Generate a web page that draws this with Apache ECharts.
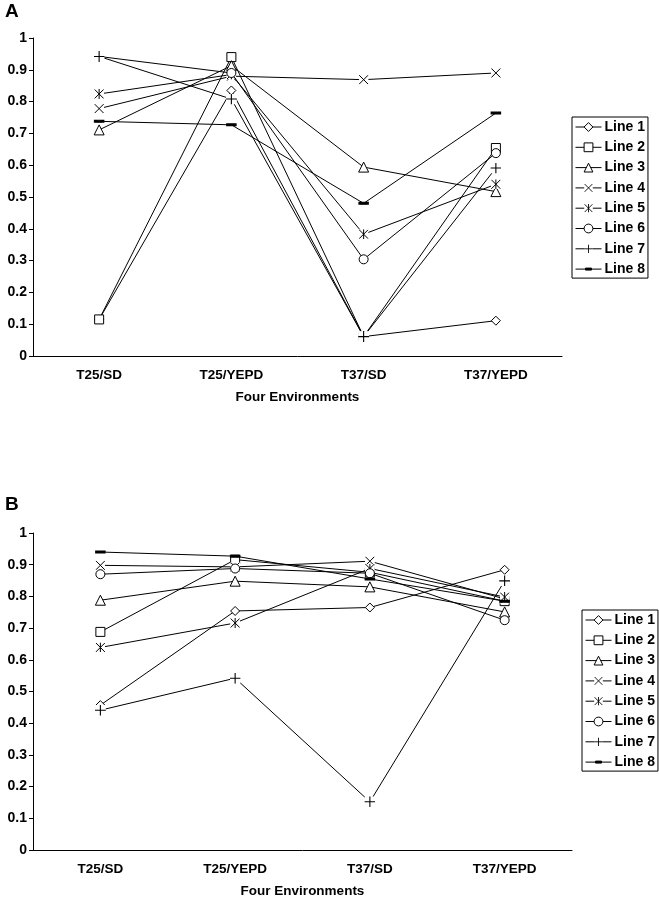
<!DOCTYPE html>
<html>
<head>
<meta charset="utf-8">
<script src="https://cdn.jsdelivr.net/npm/echarts@6/dist/echarts.min.js"></script>
<style>
  html, body { margin: 0; padding: 0; background: #fff; }
  #chart { width: 659px; height: 899px; }
</style>
</head>
<body>
<div id="chart"></div>
<script>
const categories = ['T25/SD', 'T25/YEPD', 'T37/SD', 'T37/YEPD'];
const lineNames = ['Line 1', 'Line 2', 'Line 3', 'Line 4', 'Line 5', 'Line 6', 'Line 7', 'Line 8'];

// panel A
const line1A = [0.115, 0.835, 0.061, 0.111];
const line2A = [0.115, 0.940, 0.061, 0.654];
const line3A = [0.711, 0.913, 0.594, 0.517];
const line4A = [0.778, 0.880, 0.869, 0.890];
const line5A = [0.824, 0.885, 0.383, 0.540];
const line6A = [0.942, 0.890, 0.304, 0.638];
const line7A = [0.942, 0.808, 0.061, 0.591];
const line8A = [0.738, 0.727, 0.480, 0.764];

// panel B
const line1B = [0.457, 0.754, 0.765, 0.884];
const line2B = [0.688, 0.916, 0.876, 0.785];
const line3B = [0.788, 0.848, 0.830, 0.751];
const line4B = [0.898, 0.893, 0.911, 0.792];
const line5B = [0.639, 0.716, 0.888, 0.798];
const line6B = [0.870, 0.888, 0.873, 0.725];
const line7B = [0.441, 0.542, 0.152, 0.849];
const line8B = [0.940, 0.927, 0.855, 0.785];

const panelA = [line1A, line2A, line3A, line4A, line5A, line6A, line7A, line8A];
const panelB = [line1B, line2B, line3B, line4B, line5B, line6B, line7B, line8B];

// x / * / + markers sit on a white square, like the old Excel ones
function strokeMarker(d) {
  const svg = '<svg xmlns="http://www.w3.org/2000/svg" width="20" height="20" viewBox="0 0 10 10">' +
    '<rect width="10" height="10" fill="white"/>' +
    '<path d="' + d + '" stroke="black" stroke-width="1" fill="none"/></svg>';
  return 'image://data:image/svg+xml;charset=utf-8,' + encodeURIComponent(svg);
}
const crossSym = strokeMarker('M0.5,0.5L9.5,9.5M9.5,0.5L0.5,9.5');
const starSym = strokeMarker('M0.5,0.5L9.5,9.5M9.5,0.5L0.5,9.5M5,0L5,10');
const plusSym = strokeMarker('M5,0L5,10M0,5L10,5');

const symbols = ['diamond', 'rect', 'triangle', crossSym, starSym, 'circle', plusSym, 'rect'];
const symbolSizes = [9, 9, 10, 10, 10, 9, 11, [7, 2]];

const font = 'Liberation Sans, Arial, sans-serif';
const chart = echarts.init(document.getElementById('chart'));

function makeSeries(values, axisIdx) {
  return values.map((data, i) => ({
    name: lineNames[i],
    type: 'line',
    xAxisIndex: axisIdx,
    yAxisIndex: axisIdx,
    data,
    symbol: symbols[i],
    symbolSize: symbolSizes[i],
    showAllSymbol: true,
    lineStyle: { color: '#000', width: 1 },
    itemStyle: { color: i === 7 ? '#000' : '#fff', borderColor: '#000', borderWidth: 1 },
    emphasis: { disabled: true },
    z: 2 + i,
  }));
}

function xAxisFor(gridIndex) {
  return {
    type: 'category',
    gridIndex,
    data: categories,
    boundaryGap: true,
    name: 'Four Environments',
    nameLocation: 'middle',
    nameGap: 34,
    nameTextStyle: { fontFamily: font, fontWeight: 'bold', fontSize: 13.5, color: '#000' },
    axisLine: { lineStyle: { color: '#000', width: 1 } },
    axisTick: { length: 4, lineStyle: { color: '#000' } },
    axisLabel: { fontFamily: font, fontWeight: 'bold', fontSize: 13.5, color: '#000', margin: 12 },
    splitLine: { show: false },
  };
}

function yAxisFor(gridIndex) {
  return {
    type: 'value',
    gridIndex,
    min: 0,
    max: 1,
    interval: 0.1,
    axisLine: { show: true, lineStyle: { color: '#000', width: 1 } },
    axisTick: { show: true, length: 4, lineStyle: { color: '#000' } },
    axisLabel: { fontFamily: font, fontWeight: 'bold', fontSize: 14, color: '#000', margin: 6 },
    splitLine: { show: false },
  };
}

function legendAt(left, top) {
  const data = lineNames.map((name, i) => i === 7
    ? { name, icon: 'path://M0,5L26,5M10,4L16,4L16,6L10,6Z', itemStyle: { color: '#000', borderColor: '#000', borderWidth: 1 } }
    : name);
  return {
    orient: 'vertical',
    left,
    top,
    data,
    itemWidth: 26,
    itemHeight: 11,
    itemGap: 6.3,
    padding: [3, 3, 2, 3],
    borderColor: '#000',
    borderWidth: 1,
    backgroundColor: '#fff',
    selectedMode: false,
    itemStyle: { borderWidth: 1, borderColor: '#000' },
    lineStyle: { width: 1, color: '#000' },
    textStyle: { fontFamily: font, fontWeight: 'bold', fontSize: 14, color: '#000', padding: [0, 0, 0, -2] },
  };
}

chart.setOption({
  backgroundColor: '#fff',
  animation: false,
  title: [
    { text: 'A', left: 0, top: -3, textStyle: { fontFamily: font, fontWeight: 'bold', fontSize: 19, color: '#000' } },
    { text: 'B', left: 0, top: 490, textStyle: { fontFamily: font, fontWeight: 'bold', fontSize: 19, color: '#000' } },
  ],
  legend: [legendAt(572, 117), legendAt(582, 610)],
  grid: [
    { left: 33, top: 38, width: 529, height: 318 },
    { left: 33, top: 533, width: 539, height: 317 },
  ],
  xAxis: [xAxisFor(0), xAxisFor(1)],
  yAxis: [yAxisFor(0), yAxisFor(1)],
  series: [...makeSeries(panelA, 0), ...makeSeries(panelB, 1)],
});
</script>
</body>
</html>
